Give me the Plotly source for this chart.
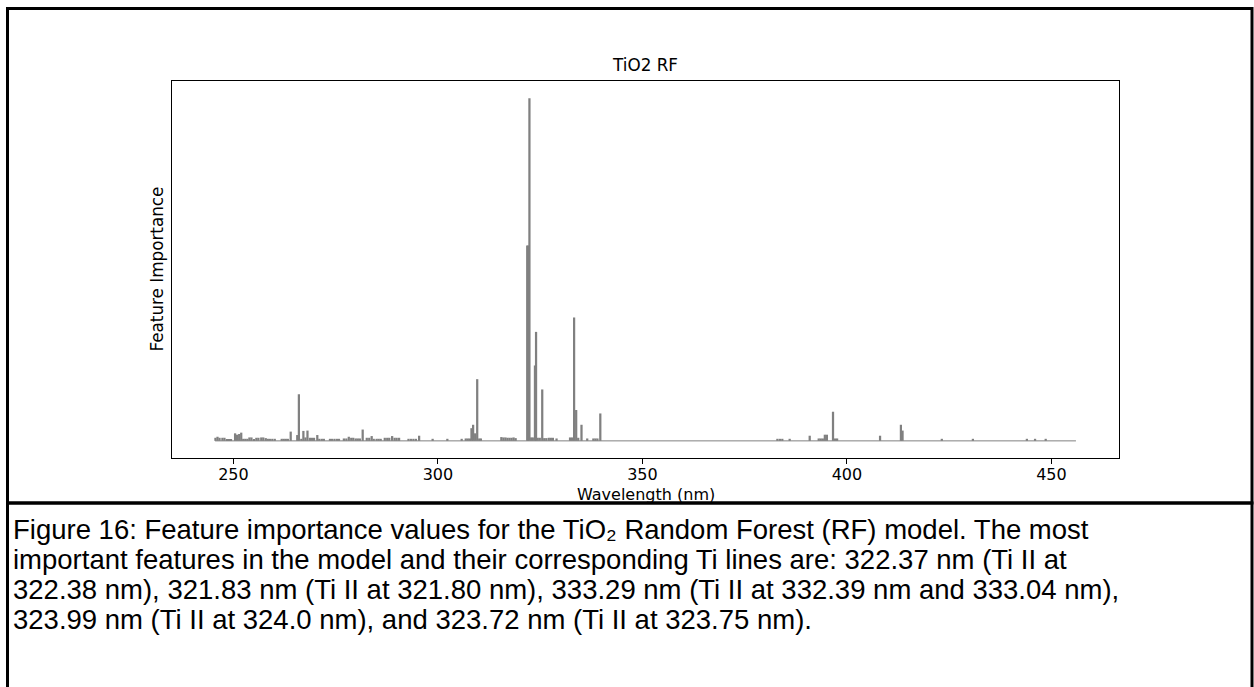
import plotly.graph_objects as go

# feature importances (wavelength in nm)
wavelength_nm = [
    245.6, 246.1, 246.6, 247.3, 247.8, 248.4, 248.9, 249.4,
    250.4, 250.9, 251.4, 251.9, 252.4, 252.9, 253.4, 253.9, 254.4, 255.0,
    255.6, 256.1, 256.8, 257.3, 257.9, 258.4, 258.9, 259.5, 260.1,
    261.8, 262.3, 262.8, 263.3, 264.0, 265.6, 266.0, 266.6, 267.1, 267.6,
    268.1, 268.7, 269.2, 269.7, 270.5, 271.0, 271.6, 272.1,
    273.6, 274.1, 274.7, 275.3, 275.8, 277.0, 277.6, 278.2, 278.8, 279.3,
    279.9, 280.4, 280.9, 281.6, 282.6, 283.2, 283.8, 284.3, 285.0, 285.5,
    286.0, 287.0, 287.6, 288.1, 288.8, 289.4, 289.9, 290.5,
    292.8, 293.4, 294.0, 294.6, 295.4, 298.7, 302.3, 305.8,
    306.8, 307.3, 307.8, 308.2, 308.6, 309.1, 309.6, 310.1, 310.5,
    315.5, 316.0, 316.5, 317.0, 317.5, 318.0, 318.5, 319.0,
    321.83, 322.1, 322.37, 322.8, 323.2, 323.72, 323.99, 324.4, 324.9,
    325.5, 326.0, 326.5, 327.1, 327.6, 328.1, 329.0,
    332.3, 332.8, 333.29, 333.8, 334.3, 335.1, 336.5, 338.0, 338.5, 339.0, 339.7,
    383.0, 383.6, 384.2, 386.0, 390.9, 393.1, 393.6, 394.1, 394.6, 395.1,
    396.6, 397.1, 397.6, 408.1, 413.2, 413.6, 423.2, 430.8, 444.0, 446.0, 448.6,
]
importance = [
    0.0009, 0.0012, 0.0009, 0.0009, 0.0009, 0.0005, 0.0005, 0.0005,
    0.0022, 0.0018, 0.0020, 0.0024, 0.0006, 0.0006, 0.0006, 0.0010, 0.0010, 0.0005,
    0.0009, 0.0009, 0.0010, 0.0010, 0.0008, 0.0006, 0.0006, 0.0006, 0.0006,
    0.0006, 0.0006, 0.0006, 0.0006, 0.0027, 0.0017, 0.0136, 0.0006, 0.0029, 0.0010,
    0.0030, 0.0009, 0.0009, 0.0009, 0.0017, 0.0006, 0.0006, 0.0006,
    0.0006, 0.0006, 0.0006, 0.0006, 0.0006, 0.0007, 0.0007, 0.0012, 0.0009, 0.0009,
    0.0007, 0.0007, 0.0007, 0.0033, 0.0009, 0.0009, 0.0014, 0.0006, 0.0006, 0.0006,
    0.0006, 0.0009, 0.0009, 0.0009, 0.0014, 0.0009, 0.0009, 0.0009,
    0.0006, 0.0006, 0.0006, 0.0006, 0.0015, 0.0006, 0.0006, 0.0006,
    0.0007, 0.0007, 0.0007, 0.0037, 0.0047, 0.0022, 0.0180, 0.0007, 0.0007,
    0.0011, 0.0010, 0.0010, 0.0009, 0.0009, 0.0009, 0.0010, 0.0008,
    0.0570, 0.0570, 0.1000, 0.0010, 0.0010, 0.0220, 0.0318, 0.0009, 0.0009,
    0.0150, 0.0008, 0.0008, 0.0009, 0.0009, 0.0009, 0.0007,
    0.0010, 0.0010, 0.0360, 0.0090, 0.0009, 0.0047, 0.0007, 0.0007, 0.0007, 0.0007, 0.0080,
    0.0006, 0.0006, 0.0006, 0.0006, 0.0015, 0.0007, 0.0007, 0.0007, 0.0018, 0.0018,
    0.0085, 0.0007, 0.0007, 0.0015, 0.0047, 0.0030, 0.0006, 0.0006, 0.0006, 0.0006, 0.0006,
]
# measured spectral range (baseline of the plot)
spectrum_start_nm = 245.5
spectrum_end_nm = 456.0
x_ticks = [250, 300, 350, 400, 450]

caption_lines = [
    "Figure 16: Feature importance values for the TiO₂ Random Forest (RF) model. The most",
    "important features in the model and their corresponding Ti lines are: 322.37 nm (Ti II at",
    "322.38 nm), 321.83 nm (Ti II at 321.80 nm), 333.29 nm (Ti II at 332.39 nm and 333.04 nm),",
    "323.99 nm (Ti II at 324.0 nm), and 323.72 nm (Ti II at 323.75 nm).",
]

W, H = 1254, 687
L, R, T, B = 172, 135, 81, 229
pw, ph = W - L - R, H - T - B

def px_x(px):
    return (px - L) / pw

def px_y(py):
    return (H - B - py) / ph

# matplotlib-like 5% margins
span = spectrum_end_nm - spectrum_start_nm
xr = [spectrum_start_nm - 0.05 * span, spectrum_end_nm + 0.05 * span]
ymax = max(importance)
yr = [-0.05 * ymax, 1.05 * ymax]

fig = go.Figure()
fig.add_trace(go.Scatter(
    x=[spectrum_start_nm, spectrum_end_nm], y=[0, 0], mode='lines',
    line=dict(color='#808080', width=1), hoverinfo='skip', showlegend=False))
fig.add_trace(go.Bar(
    x=wavelength_nm, y=importance, width=0.55,
    marker=dict(color='#808080', line=dict(width=0)), showlegend=False))

annotations = [
    dict(text='Wavelength (nm)', xref='paper', yref='paper', x=px_x(645.5), y=px_y(494),
         xanchor='center', yanchor='middle', showarrow=False, font=dict(size=16)),
    dict(text='Feature Importance', xref='paper', yref='paper', x=px_x(156), y=0.5,
         xanchor='center', yanchor='middle', textangle=-90, showarrow=False, font=dict(size=16.8)),
]
for i, line in enumerate(caption_lines):
    annotations.append(dict(
        text=line, xref='paper', yref='paper', x=px_x(11), y=px_y(529 + 30 * i),
        xanchor='left', yanchor='middle', align='left', showarrow=False,
        font=dict(family='Liberation Sans, Arial', size=27.5, color='black')))

fig.update_layout(
    width=W, height=H, autosize=False,
    margin=dict(l=L, r=R, t=T, b=B),
    paper_bgcolor='white', plot_bgcolor='white',
    font=dict(family='DejaVu Sans', size=16, color='black'),
    title=dict(text='TiO2 RF', x=px_x(645.5), xref='paper', xanchor='center',
               y=1 - 65 / H, yanchor='middle', font=dict(size=16.8)),
    xaxis=dict(range=xr, tickvals=x_ticks, ticks='outside', ticklen=5, tickcolor='black',
               tickfont=dict(size=16), ticklabelstandoff=-3,
               showline=True, linecolor='black', linewidth=1, mirror=True,
               showgrid=False, zeroline=False),
    yaxis=dict(range=yr, showticklabels=False, ticks='',
               showline=True, linecolor='black', linewidth=1, mirror=True,
               showgrid=False, zeroline=False),
    shapes=[
        dict(type='rect', xref='paper', yref='paper',
             x0=px_x(7.5), x1=px_x(1252), y0=px_y(503), y1=px_y(8.5),
             line=dict(color='black', width=3)),
        dict(type='rect', xref='paper', yref='paper',
             x0=px_x(7.5), x1=px_x(1252), y0=px_y(700), y1=px_y(503),
             line=dict(color='black', width=3)),
    ],
    annotations=annotations,
)

fig.write_html("out.html", config={'displayModeBar': False},
               post_script="document.body.style.margin='0';")
